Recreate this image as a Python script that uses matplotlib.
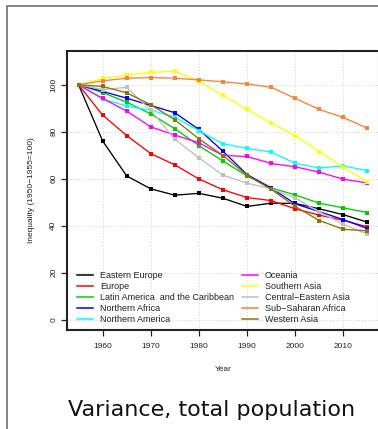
import matplotlib
matplotlib.use("Agg")
import matplotlib.pyplot as plt
from matplotlib.patches import Rectangle

years = [1955, 1960, 1965, 1970, 1975, 1980, 1985, 1990, 1995, 2000, 2005, 2010, 2015]

eastern_europe = [100, 76.1, 61.2, 55.7, 53.0, 53.8, 51.7, 48.2, 49.6, 49.5, 47.2, 44.7, 41.5]
europe = [100, 87.1, 78.4, 70.7, 65.9, 59.9, 55.3, 52.0, 50.7, 47.2, 44.5, 42.3, 39.5]
latin_america = [100, 96.7, 92.6, 87.6, 81.3, 74.1, 67.5, 61.2, 56.1, 53.1, 49.6, 47.6, 45.6]
northern_africa = [100, 97.2, 94.3, 91.2, 88.1, 81.0, 71.7, 61.8, 56.1, 49.3, 46.0, 42.6, 38.8]
northern_america = [100, 94.0, 90.9, 89.2, 86.2, 80.4, 74.9, 72.9, 71.4, 66.5, 64.6, 65.5, 63.4]
oceania = [100, 94.2, 88.8, 82.1, 78.6, 75.3, 69.9, 69.5, 66.5, 65.1, 62.8, 59.8, 58.2]
southern_asia = [100, 102.7, 104.1, 105.3, 105.8, 101.4, 95.5, 89.5, 83.8, 78.4, 71.6, 64.8, 58.7]
central_eastern_asia = [100, 98.0, 98.9, 89.2, 76.8, 68.9, 61.5, 58.1, 55.8, 51.8, 45.9, 40.6, 36.4]
sub_saharan_africa = [100, 101.7, 102.8, 103.1, 102.8, 102.1, 101.3, 100.3, 99.0, 94.2, 89.5, 86.1, 81.5]
western_asia = [100, 99.3, 96.6, 91.5, 85.1, 77.0, 69.9, 61.5, 55.5, 48.2, 42.2, 38.5, 37.8]

regions = ["Eastern Europe", "Europe", "Latin America  and the Caribbean",
           "Northern Africa", "Northern America", "Oceania", "Southern Asia",
           "Central\u2212Eastern Asia", "Sub\u2212Saharan Africa", "Western Asia"]
series = [eastern_europe, europe, latin_america, northern_africa, northern_america,
          oceania, southern_asia, central_eastern_asia, sub_saharan_africa, western_asia]
colors = ["#000000", "#FF0000", "#00CD00", "#0000FF", "#00FFFF",
          "#FF00FF", "#FFFF00", "#BFBFBF", "#FF8033", "#8B7500"]

x_ticks = [1960, 1970, 1980, 1990, 2000, 2010]
y_ticks = [0, 20, 40, 60, 80, 100]

W, H = 378, 429
fig = plt.figure(figsize=(W / 100, H / 100), dpi=100)

# outer panel frame
fig.patches.append(Rectangle((7 / W, -0.2), 2.0, 1.2 - 6 / H, transform=fig.transFigure,
                             fill=False, edgecolor="#707070", linewidth=1.2))

ax_l, ax_r, ax_t, ax_b = 67, 379, 51, 330
ax = fig.add_axes([ax_l / W, 1 - ax_b / H, (ax_r - ax_l) / W, (ax_b - ax_t) / H])

for vals, col, name in zip(series, colors, regions):
    ax.plot(years, vals, color=col, linewidth=0.95, marker="s", markersize=2.3,
            markeredgewidth=0, label=name)

ax.set_xlim(1952.6, 2017.4)
ax.set_ylim(-4.4, 114.4)
ax.set_xticks(x_ticks)
ax.set_yticks(y_ticks)

tick_font = dict(family="Liberation Sans", size=6, color="#222222")
ax.set_xticklabels([str(t) for t in x_ticks], **tick_font)
ax.set_yticklabels([str(t) for t in y_ticks], rotation=90, va="center", **tick_font)
ax.tick_params(axis="x", direction="out", length=4, width=0.9, color="#222222", pad=5)
ax.tick_params(axis="y", direction="out", length=4, width=0.9, color="#222222", pad=3)

ax.grid(True, color="#D0D0D0", linestyle=(0, (1, 2)), linewidth=0.7)
ax.set_axisbelow(True)
for side in ["left", "bottom", "top", "right"]:
    ax.spines[side].set_linewidth(1.5)
    ax.spines[side].set_color("#222222")

ax.set_xlabel("Year", family="Liberation Sans", size=6, color="#222222", labelpad=12)
ax.set_ylabel("Inequality (1950\u22121955=100)", family="Liberation Sans", size=6,
              color="#222222", labelpad=11)

fs = 6.5
px = fs * 100 / 72
leg = ax.legend(loc="lower left", ncol=2, frameon=False,
                prop=dict(family="Liberation Sans", size=fs),
                handlelength=16 / px, handletextpad=7 / px, columnspacing=8 / px,
                labelspacing=0.22, borderaxespad=0, borderpad=0,
                bbox_to_anchor=(10 / (ax_r - ax_l), 6 / (ax_b - ax_t)))
for h in leg.legend_handles:
    h.set_marker("")
    h.set_linewidth(1.1)
for t in leg.get_texts():
    t.set_color("#222222")

fig.text(212 / W, 1 - 410 / H, "Variance, total population", ha="center", va="center",
         family="DejaVu Sans", size=16, color="#111111")

fig.savefig("out.png", dpi=100)
